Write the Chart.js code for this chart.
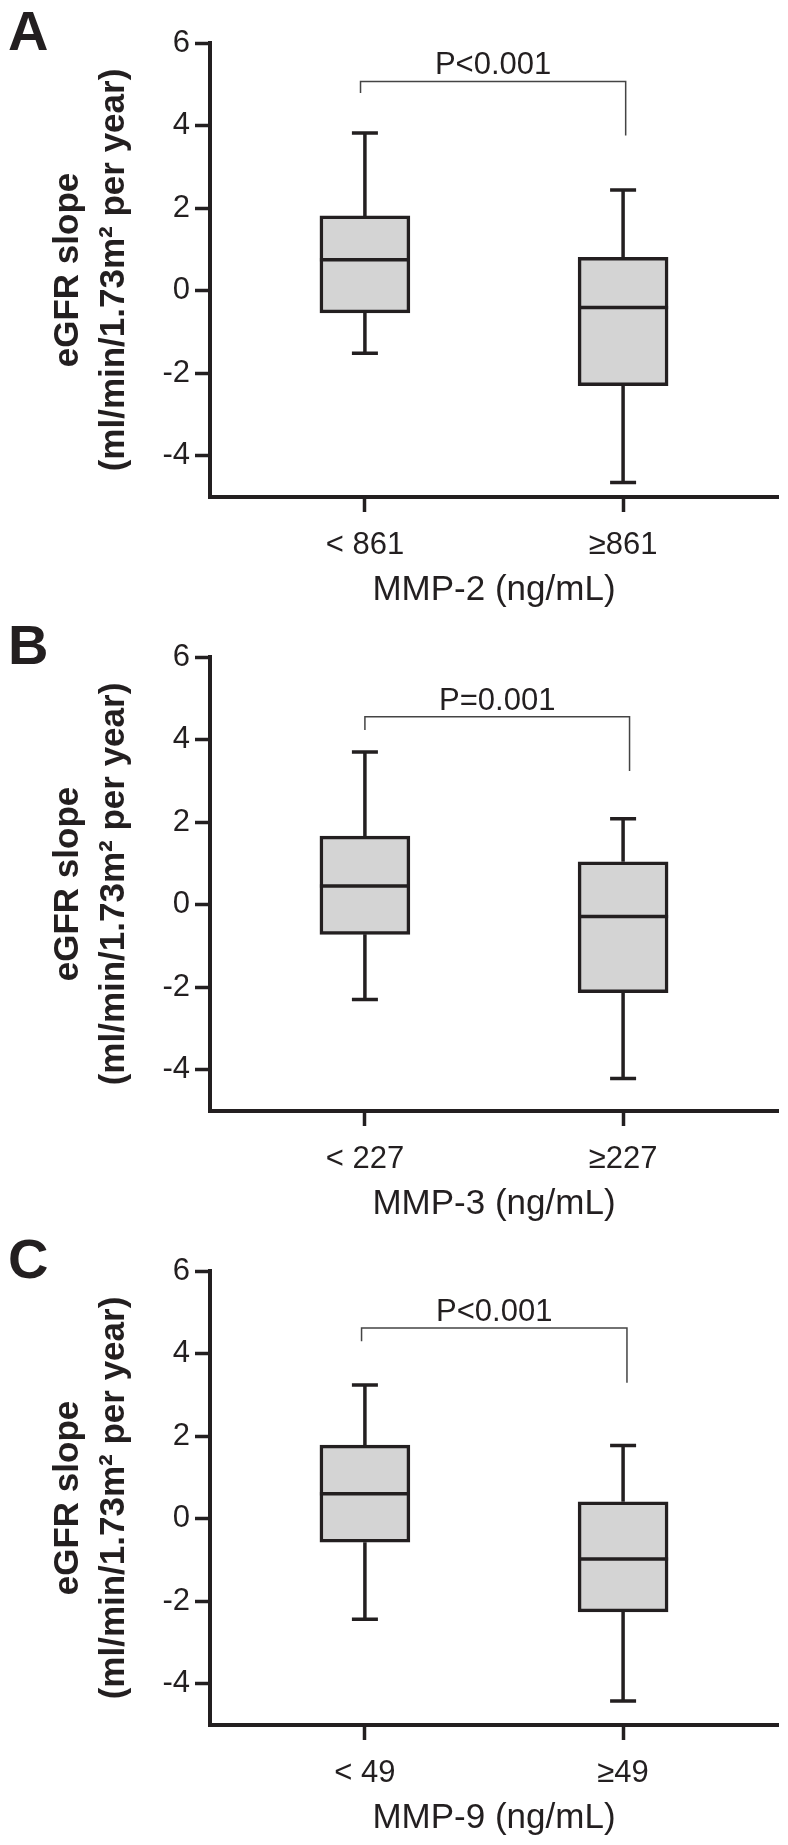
<!DOCTYPE html>
<html>
<head>
<meta charset="utf-8">
<script src="https://cdn.jsdelivr.net/npm/chart.js@4.4.1/dist/chart.umd.min.js"></script>
<style>
  body { margin: 0; background: #fff; }
  #wrap { position: relative; width: 788px; height: 1845px; background: #fff; }
  canvas { position: absolute; left: 0; }
</style>
</head>
<body>
<div id="wrap">
  <canvas id="chartA" width="788" height="614" style="top:0px"></canvas>
  <canvas id="chartB" width="788" height="614" style="top:614px"></canvas>
  <canvas id="chartC" width="788" height="614" style="top:1228px"></canvas>
</div>
<script>
const yTicks = [-4, -2, 0, 2, 4, 6]
const groupPos = [1, 2]
const yTitle = ["eGFR slope", "(ml/min/1.73m² per year)"]

// A: MMP-2
const mmp2Labels = ["< 861", "≥861"]
const mmp2Max = [3.82, 2.44]
const mmp2Q3 = [1.81, 0.81]
const mmp2Median = [0.75, -0.41]
const mmp2Q1 = [-0.54, -2.30]
const mmp2Min = [-1.52, -4.65]
const mmp2Bracket = [5.07, 4.79, 3.76] // bar level, left leg end, right leg end
const mmp2BracketX = [0.983, 2.01]

// B: MMP-3
const mmp3Labels = ["< 227", "≥227"]
const mmp3Max = [3.70, 2.08]
const mmp3Q3 = [1.66, 1.04]
const mmp3Median = [0.45, -0.29]
const mmp3Q1 = [-0.72, -2.13]
const mmp3Min = [-2.30, -4.21]
const mmp3Bracket = [4.55, 4.23, 3.24]
const mmp3BracketX = [1.0, 2.025]

// C: MMP-9
const mmp9Labels = ["< 49", "≥49"]
const mmp9Max = [3.24, 1.77]
const mmp9Q3 = [1.78, 0.41]
const mmp9Median = [0.60, -0.98]
const mmp9Q1 = [-0.57, -2.26]
const mmp9Min = [-2.44, -4.42]
const mmp9Bracket = [4.62, 4.30, 3.29]
const mmp9BracketX = [0.987, 2.015]

const ink = "#231f20"
const boxFill = "#d4d4d4"
const fontFamily = "'Liberation Sans', Arial, Helvetica, sans-serif"

Chart.defaults.font.family = fontFamily
Chart.defaults.color = ink

// whiskers, medians, significance bracket and panel letter
const boxParts = (p) => ({
  id: "boxParts" + p.letter,
  beforeDatasetsDraw(chart) {
    const { ctx, scales: { x, y } } = chart
    ctx.save()
    ctx.strokeStyle = ink
    ctx.lineWidth = 3.5
    ctx.beginPath()
    groupPos.forEach((g, i) => {
      const cx = x.getPixelForValue(g)
      const top = y.getPixelForValue(p.max[i])
      const bot = y.getPixelForValue(p.min[i])
      ctx.moveTo(cx, y.getPixelForValue(p.q3[i]))
      ctx.lineTo(cx, top)
      ctx.moveTo(cx, y.getPixelForValue(p.q1[i]))
      ctx.lineTo(cx, bot)
      ctx.moveTo(cx - 13, top)
      ctx.lineTo(cx + 13, top)
      ctx.moveTo(cx - 13, bot)
      ctx.lineTo(cx + 13, bot)
    })
    ctx.stroke()
    ctx.restore()
  },
  afterDatasetsDraw(chart) {
    const { ctx, scales: { x, y } } = chart
    const bars = chart.getDatasetMeta(0).data
    ctx.save()
    ctx.strokeStyle = ink
    ctx.lineWidth = 3.5
    ctx.beginPath()
    bars.forEach((bar, i) => {
      const my = y.getPixelForValue(p.median[i])
      ctx.moveTo(bar.x - bar.width / 2, my)
      ctx.lineTo(bar.x + bar.width / 2, my)
    })
    ctx.stroke()

    const xl = x.getPixelForValue(p.bracketX[0])
    const xr = x.getPixelForValue(p.bracketX[1])
    const yb = y.getPixelForValue(p.bracket[0])
    ctx.strokeStyle = "#444"
    ctx.lineWidth = 1.5
    ctx.beginPath()
    ctx.moveTo(xl, y.getPixelForValue(p.bracket[1]))
    ctx.lineTo(xl, yb)
    ctx.lineTo(xr, yb)
    ctx.lineTo(xr, y.getPixelForValue(p.bracket[2]))
    ctx.stroke()

    ctx.fillStyle = ink
    ctx.font = "31px " + fontFamily
    ctx.textAlign = "center"
    ctx.textBaseline = "alphabetic"
    ctx.fillText(p.pText, (xl + xr) / 2, yb - 7)
    ctx.restore()
  },
  afterDraw(chart) {
    const { ctx } = chart
    ctx.save()
    ctx.fillStyle = ink
    ctx.font = "bold 56px " + fontFamily
    ctx.textBaseline = "alphabetic"
    ctx.fillText(p.letter, 8, 49.5)
    ctx.restore()
  },
})

function makeChart(canvasId, p) {
  return new Chart(document.getElementById(canvasId), {
    type: "bar",
    data: {
      datasets: [
        {
          data: groupPos.map((g, i) => ({ x: g, y: [p.q1[i], p.q3[i]] })),
          backgroundColor: boxFill,
          borderColor: ink,
          borderWidth: 3.5,
          borderSkipped: false,
          barThickness: 90,
        },
      ],
    },
    options: {
      responsive: false,
      animation: false,
      devicePixelRatio: 1,
      layout: { padding: { top: 43, right: 10, bottom: 0, left: 0 } },
      plugins: { legend: { display: false }, tooltip: { enabled: false } },
      scales: {
        x: {
          type: "linear",
          min: 0.4,
          max: 2.6,
          offset: false,
          afterBuildTicks: (scale) => {
            scale.ticks = groupPos.map((v) => ({ value: v }))
          },
          afterFit: (scale) => {
            scale.height = 117
          },
          ticks: {
            callback: (value, index) => p.labels[index],
            font: { size: 31 },
            color: ink,
            padding: 15,
            maxRotation: 0,
            autoSkip: false,
          },
          grid: {
            offset: false,
            drawOnChartArea: false,
            drawTicks: true,
            tickLength: 15,
            tickWidth: 3.5,
            tickColor: ink,
          },
          border: { display: true, color: ink, width: 4 },
          title: {
            display: true,
            text: p.title,
            font: { size: 35 },
            color: ink,
            padding: { top: 0, bottom: 3 },
          },
        },
        y: {
          min: -5,
          max: 6,
          afterBuildTicks: (scale) => {
            scale.ticks = yTicks.map((v) => ({ value: v }))
          },
          afterFit: (scale) => {
            scale.width = 210
          },
          ticks: {
            callback: (value) => String(value),
            font: { size: 31 },
            color: ink,
            padding: 5,
          },
          grid: {
            drawOnChartArea: false,
            drawTicks: true,
            tickLength: 15,
            tickWidth: 3.5,
            tickColor: ink,
          },
          border: { display: true, color: ink, width: 4 },
          title: {
            display: true,
            text: yTitle,
            font: { size: 35, weight: "bold", lineHeight: 1.334 },
            color: ink,
            padding: { top: 44.6, bottom: 0 },
          },
        },
      },
    },
    plugins: [boxParts(p)],
  })
}

makeChart("chartA", {
  letter: "A", title: "MMP-2 (ng/mL)", labels: mmp2Labels, pText: "P<0.001",
  max: mmp2Max, q3: mmp2Q3, median: mmp2Median, q1: mmp2Q1, min: mmp2Min,
  bracket: mmp2Bracket, bracketX: mmp2BracketX,
})
makeChart("chartB", {
  letter: "B", title: "MMP-3 (ng/mL)", labels: mmp3Labels, pText: "P=0.001",
  max: mmp3Max, q3: mmp3Q3, median: mmp3Median, q1: mmp3Q1, min: mmp3Min,
  bracket: mmp3Bracket, bracketX: mmp3BracketX,
})
makeChart("chartC", {
  letter: "C", title: "MMP-9 (ng/mL)", labels: mmp9Labels, pText: "P<0.001",
  max: mmp9Max, q3: mmp9Q3, median: mmp9Median, q1: mmp9Q1, min: mmp9Min,
  bracket: mmp9Bracket, bracketX: mmp9BracketX,
})
</script>
</body>
</html>
